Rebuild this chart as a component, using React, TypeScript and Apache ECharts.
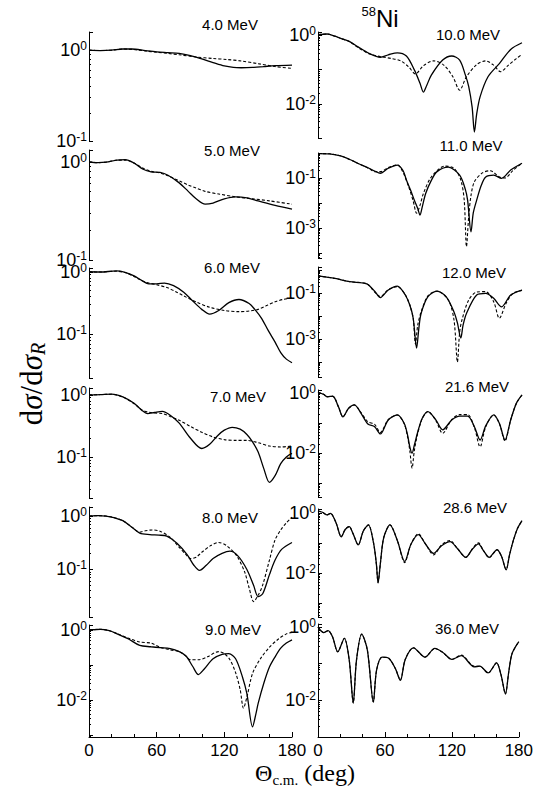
import React, { useEffect, useRef } from "react";
import * as echarts from "echarts";

type P = [number, number][];

// ---- data (theta in deg, dsigma/dsigma_R) ----
const solid4: P = [[0,1.0],[10,0.99],[20,1.0],[30,1.03],[38,1.03],[50,0.99],[60,0.96],[70,0.94],[80,0.92],[90,0.87],[100,0.8],[110,0.73],[120,0.67],[128,0.645],[135,0.64],[145,0.645],[155,0.66],[165,0.675],[180,0.685]];
const dashed4: P = [[0,1.0],[10,0.99],[20,1.0],[30,1.03],[38,1.02],[50,0.98],[60,0.95],[70,0.92],[80,0.89],[95,0.84],[110,0.81],[122,0.79],[135,0.76],[150,0.71],[165,0.66],[180,0.63]];

const solid5: P = [[0,1.0],[8,0.98],[15,0.99],[25,1.04],[32,1.05],[40,0.97],[48,0.84],[55,0.79],[63,0.78],[70,0.73],[80,0.61],[88,0.5],[95,0.42],[103,0.37],[110,0.38],[120,0.42],[130,0.44],[140,0.43],[150,0.4],[165,0.36],[180,0.33]];
const dashed5: P = [[0,1.0],[8,0.98],[15,0.99],[25,1.04],[32,1.04],[40,0.97],[48,0.86],[55,0.8],[63,0.77],[70,0.72],[80,0.64],[88,0.58],[95,0.54],[103,0.5],[115,0.47],[130,0.44],[145,0.42],[160,0.4],[180,0.37]];

const solid6: P = [[0,1.0],[10,0.99],[24,1.03],[32,0.98],[40,0.86],[47,0.72],[53,0.64],[60,0.64],[67,0.66],[75,0.6],[84,0.47],[92,0.34],[100,0.25],[107,0.21],[115,0.24],[124,0.32],[133,0.36],[142,0.31],[147,0.25],[153,0.18],[159,0.114],[165,0.075],[170,0.051],[175,0.04],[180,0.035]];
const dashed6: P = [[0,1.0],[10,0.99],[24,1.02],[32,0.97],[40,0.84],[47,0.72],[53,0.66],[60,0.62],[69,0.56],[77,0.48],[84,0.41],[95,0.33],[107,0.27],[120,0.24],[133,0.23],[142,0.235],[150,0.25],[158,0.29],[165,0.33],[172,0.36],[180,0.38]];

const solid7: P = [[0,1.0],[10,1.01],[20,1.03],[30,0.93],[40,0.73],[47,0.56],[52,0.5],[58,0.52],[65,0.54],[72,0.47],[80,0.35],[90,0.2],[100,0.137],[107,0.16],[114,0.22],[120,0.27],[127,0.3],[134,0.28],[140,0.23],[145,0.175],[150,0.12],[155,0.065],[160,0.039],[165,0.05],[170,0.078],[175,0.1],[180,0.114]];
const dashed7: P = [[0,1.0],[10,1.01],[20,1.02],[30,0.92],[40,0.72],[47,0.57],[52,0.53],[58,0.51],[65,0.5],[72,0.45],[80,0.39],[90,0.31],[100,0.25],[110,0.21],[120,0.19],[130,0.185],[140,0.185],[150,0.17],[160,0.15],[170,0.145],[180,0.15]];

const solid8: P = [[0,1.0],[8,1.02],[15,1.0],[22,0.94],[30,0.82],[38,0.62],[45,0.48],[54,0.45],[62,0.44],[69,0.42],[78,0.31],[87,0.19],[93,0.12],[98,0.096],[104,0.12],[110,0.16],[118,0.2],[125,0.22],[132,0.18],[140,0.1],[146,0.05],[150,0.031],[154,0.035],[160,0.08],[165,0.15],[171,0.24],[180,0.32]];
const dashed8: P = [[0,1.0],[8,1.02],[15,1.0],[22,0.94],[30,0.82],[38,0.62],[45,0.5],[50,0.53],[56,0.55],[63,0.52],[72,0.4],[80,0.26],[86,0.19],[90,0.16],[95,0.17],[100,0.21],[108,0.28],[115,0.32],[122,0.28],[131,0.18],[138,0.09],[142,0.045],[146,0.025],[150,0.033],[154,0.051],[160,0.15],[165,0.36],[170,0.55],[175,0.75],[180,0.95]];

const solid9: P = [[0,1.0],[5,1.02],[10,1.04],[18,0.95],[25,0.77],[35,0.55],[45,0.36],[55,0.33],[63,0.31],[72,0.29],[80,0.24],[86,0.18],[92,0.09],[97,0.053],[102,0.075],[110,0.15],[118,0.2],[124,0.21],[130,0.15],[136,0.046],[140,0.015],[145,0.0017],[148,0.004],[150,0.008],[155,0.03],[160,0.087],[165,0.17],[170,0.3],[175,0.42],[180,0.52]];
const dashed9: P = [[0,1.0],[5,1.02],[10,1.04],[18,0.95],[25,0.78],[35,0.58],[45,0.45],[55,0.42],[63,0.32],[72,0.27],[80,0.24],[85,0.19],[90,0.14],[97,0.14],[105,0.17],[115,0.24],[120,0.21],[125,0.14],[130,0.06],[134,0.02],[137,0.0058],[140,0.012],[145,0.057],[152,0.15],[160,0.32],[168,0.55],[175,0.77],[180,0.85]];

const solid10: P = [[0,1.05],[8,1.1],[15,0.95],[20,0.82],[28,0.66],[35,0.47],[45,0.3],[55,0.23],[62,0.27],[70,0.31],[78,0.25],[85,0.098],[90,0.04],[93,0.022],[96,0.035],[100,0.069],[110,0.19],[118,0.25],[125,0.19],[130,0.07],[133,0.032],[136,0.008],[138,0.0015],[140,0.005],[143,0.016],[150,0.062],[160,0.15],[170,0.39],[180,0.61]];
const dashed10: P = [[0,1.05],[8,1.1],[15,0.95],[20,0.82],[28,0.65],[35,0.45],[45,0.29],[55,0.24],[65,0.21],[73,0.18],[80,0.12],[86,0.075],[93,0.13],[102,0.18],[111,0.135],[119,0.062],[125,0.025],[131,0.062],[140,0.14],[148,0.18],[155,0.135],[161,0.087],[168,0.135],[175,0.21],[180,0.28]];

const solid11: P = [[0,0.95],[10,0.93],[20,0.76],[28,0.55],[35,0.39],[45,0.245],[50,0.19],[55,0.155],[62,0.245],[70,0.33],[75,0.2],[78,0.083],[82,0.03],[85,0.013],[88,0.006],[90,0.0033],[92,0.007],[95,0.024],[100,0.08],[105,0.18],[115,0.27],[125,0.13],[130,0.035],[132,0.013],[135,0.0007],[137,0.004],[140,0.013],[144,0.05],[148,0.11],[155,0.13],[162,0.097],[170,0.21],[180,0.39]];
const dashed11: P = [[0,0.95],[10,0.93],[20,0.76],[28,0.55],[35,0.39],[45,0.24],[50,0.18],[55,0.18],[62,0.26],[70,0.33],[75,0.17],[80,0.045],[84,0.012],[87,0.0039],[90,0.008],[93,0.024],[100,0.11],[112,0.3],[120,0.245],[126,0.083],[129,0.013],[131,0.00018],[133,0.003],[135,0.02],[138,0.071],[145,0.16],[152,0.195],[160,0.11],[165,0.1],[172,0.2],[180,0.39]];

const solid12: P = [[0,0.55],[15,0.43],[28,0.31],[43,0.25],[50,0.12],[55,0.063],[62,0.135],[70,0.2],[77,0.082],[81,0.03],[84,0.008],[87,0.0004],[89,0.003],[91,0.013],[97,0.069],[105,0.12],[113,0.069],[120,0.015],[123,0.005],[126,0.0011],[128,0.004],[131,0.013],[140,0.082],[148,0.097],[155,0.059],[162,0.025],[170,0.082],[180,0.135]];
const dashed12: P = [[0,0.55],[15,0.43],[28,0.31],[43,0.25],[50,0.11],[55,0.07],[62,0.14],[70,0.19],[77,0.085],[81,0.03],[84,0.008],[86,0.0006],[88,0.004],[91,0.015],[97,0.075],[105,0.12],[115,0.05],[120,0.0067],[123,0.0001],[125,0.002],[127,0.0067],[133,0.05],[140,0.11],[148,0.115],[155,0.042],[160,0.008],[166,0.036],[172,0.097],[180,0.13]];

const solid21: P = [[0,1.05],[5,0.9],[8,0.75],[13,0.78],[18,0.35],[22,0.16],[27,0.31],[32,0.4],[38,0.21],[44,0.093],[50,0.075],[55,0.043],[62,0.126],[70,0.185],[76,0.098],[79,0.04],[81,0.016],[83,0.0098],[85,0.018],[88,0.05],[92,0.144],[97,0.24],[104,0.126],[110,0.059],[118,0.126],[125,0.17],[132,0.17],[138,0.075],[143,0.027],[148,0.08],[155,0.185],[160,0.098],[165,0.027],[170,0.126],[175,0.45],[180,0.86]];
const dashed21: P = [[0,1.05],[5,0.9],[8,0.75],[13,0.78],[18,0.35],[22,0.16],[27,0.31],[32,0.4],[38,0.22],[44,0.11],[50,0.09],[55,0.048],[62,0.13],[70,0.185],[76,0.095],[79,0.035],[81,0.012],[83,0.0031],[85,0.012],[88,0.045],[92,0.14],[97,0.24],[104,0.12],[110,0.045],[118,0.13],[125,0.19],[132,0.19],[138,0.07],[143,0.016],[148,0.075],[155,0.185],[160,0.095],[165,0.025],[170,0.126],[175,0.45],[180,0.86]];

const solid28: P = [[0,1.15],[4,1.05],[8,0.86],[11,0.97],[16,0.46],[20.5,0.16],[24,0.28],[27.5,0.35],[31,0.2],[35.5,0.086],[40,0.25],[44.5,0.4],[49,0.1],[51.5,0.02],[53,0.0046],[55,0.02],[58,0.15],[63.5,0.4],[70,0.12],[76.5,0.024],[82,0.09],[88.5,0.19],[95,0.09],[102,0.045],[109,0.08],[116.5,0.11],[123,0.065],[130.5,0.033],[136,0.06],[141.5,0.093],[146,0.055],[151,0.033],[158,0.059],[162,0.035],[166,0.0126],[169,0.04],[172.5,0.126],[176,0.3],[180,0.55]];
const dashed28: P = [[0,1.15],[4,1.05],[8,0.86],[11,0.97],[16,0.46],[20.5,0.16],[24,0.28],[27.5,0.35],[31,0.2],[35.5,0.086],[40,0.25],[44.5,0.4],[49,0.1],[51.5,0.02],[53,0.0048],[55,0.02],[58,0.15],[63.5,0.4],[70,0.12],[76.5,0.022],[82,0.09],[88.5,0.2],[95,0.09],[102,0.04],[109,0.085],[116.5,0.12],[123,0.065],[130.5,0.033],[136,0.062],[141.5,0.1],[146,0.055],[151,0.032],[158,0.059],[162,0.035],[166,0.013],[169,0.04],[172.5,0.126],[176,0.3],[180,0.55]];

const solid36: P = [[0,1.0],[5,0.7],[9,0.79],[13,0.54],[17.7,0.21],[23.6,0.49],[28,0.125],[31.6,0.0085],[34.5,0.125],[39.2,0.64],[44.3,0.23],[49.6,0.009],[52.5,0.066],[57.5,0.15],[63.4,0.14],[69.3,0.074],[73.8,0.035],[78.2,0.13],[85.6,0.27],[95.9,0.15],[104.7,0.26],[112,0.2],[120,0.13],[128.4,0.165],[140,0.082],[145,0.085],[152.5,0.056],[160,0.105],[164,0.05],[168,0.015],[171,0.06],[174,0.19],[180,0.4]];
const dashed36: P = [[0,1.0],[5,0.7],[9,0.79],[13,0.54],[17.7,0.21],[23.6,0.49],[28,0.125],[31.6,0.0085],[34.5,0.125],[39.2,0.64],[44.3,0.23],[49.6,0.009],[52.5,0.066],[57.5,0.15],[63.4,0.14],[69.3,0.074],[73.8,0.036],[78.2,0.13],[85.6,0.27],[95.9,0.15],[104.7,0.26],[112,0.2],[120,0.13],[128.4,0.17],[140,0.085],[145,0.085],[152.5,0.055],[160,0.105],[164,0.05],[168,0.015],[171,0.06],[174,0.19],[180,0.4]];

const xTicks = [0, 60, 120, 180];

type Panel = {
  title: string; solid: P; dashed: P; lo: number; hi: number; labels: number[];
  col: number; top: number; bottom: number; tx: number; ty: number; last?: boolean;
};

const panels: Panel[] = [
  { title: "4.0 MeV", solid: solid4, dashed: dashed4, lo: -1, hi: 0.2, labels: [0, -1], col: 0, top: 32, bottom: 141, tx: 230, ty: 24 },
  { title: "5.0 MeV", solid: solid5, dashed: dashed5, lo: -1, hi: 0.12, labels: [0, -1], col: 0, top: 150, bottom: 260, tx: 232, ty: 150 },
  { title: "6.0 MeV", solid: solid6, dashed: dashed6, lo: -1.7, hi: 0.06, labels: [0, -1], col: 0, top: 268, bottom: 378, tx: 232, ty: 267 },
  { title: "7.0 MeV", solid: solid7, dashed: dashed7, lo: -1.66, hi: 0.11, labels: [0, -1], col: 0, top: 388, bottom: 498, tx: 238, ty: 396 },
  { title: "8.0 MeV", solid: solid8, dashed: dashed8, lo: -1.89, hi: 0.17, labels: [0, -1], col: 0, top: 507, bottom: 617, tx: 230, ty: 517 },
  { title: "9.0 MeV", solid: solid9, dashed: dashed9, lo: -3.06, hi: 0.14, labels: [0, -2], col: 0, top: 625, bottom: 737, tx: 233, ty: 629, last: true },
  { title: "10.0 MeV", solid: solid10, dashed: dashed10, lo: -3, hi: 0.1, labels: [0, -2], col: 1, top: 32, bottom: 138, tx: 468, ty: 34 },
  { title: "11.0 MeV", solid: solid11, dashed: dashed11, lo: -4.2, hi: 0, labels: [-1, -3], col: 1, top: 153, bottom: 258, tx: 471, ty: 145 },
  { title: "12.0 MeV", solid: solid12, dashed: dashed12, lo: -4.65, hi: 0.13, labels: [-1, -3], col: 1, top: 267, bottom: 377, tx: 474, ty: 272 },
  { title: "21.6 MeV", solid: solid21, dashed: dashed21, lo: -3.47, hi: 0.1, labels: [0, -2], col: 1, top: 390, bottom: 497, tx: 477, ty: 386 },
  { title: "28.6 MeV", solid: solid28, dashed: dashed28, lo: -3.47, hi: 0.13, labels: [0, -2], col: 1, top: 509, bottom: 617, tx: 475, ty: 507 },
  { title: "36.0 MeV", solid: solid36, dashed: dashed36, lo: -3.0, hi: 0.08, labels: [0, -2], col: 1, top: 624, bottom: 737, tx: 467, ty: 628, last: true },
];

const SANS = "Liberation Sans, Arial, sans-serif";
const SERIF = "Liberation Serif, Times New Roman, serif";

function buildOption() {
  const grid: any[] = [];
  const xAxis: any[] = [];
  const yAxis: any[] = [];
  const series: any[] = [];
  const graphic: any[] = [];
  panels.forEach((p, i) => {
    grid.push({ left: p.col === 0 ? 89 : 318, width: p.col === 0 ? 203 : 204, top: p.top, height: p.bottom - p.top });
    xAxis.push({
      type: "value", gridIndex: i, min: xTicks[0], max: xTicks[xTicks.length - 1], interval: 60,
      show: !!p.last,
      axisLine: { show: true, onZero: false, lineStyle: { color: "#000", width: 1 } },
      axisTick: { show: true, inside: true, length: 5, lineStyle: { color: "#000" } },
      minorTick: { show: true, splitNumber: 3, length: 3, lineStyle: { color: "#000" } },
      splitLine: { show: false },
      axisLabel: { fontSize: 17, color: "#000", fontFamily: SANS, margin: 5 },
    });
    const labs = p.labels;
    yAxis.push({
      type: "log", logBase: 10, gridIndex: i,
      min: Math.pow(10, p.lo), max: Math.pow(10, p.hi),
      axisLine: { show: true, lineStyle: { color: "#000", width: 1 } },
      axisTick: { show: true, inside: true, length: 4, lineStyle: { color: "#000" } },
      minorTick: { show: true, splitNumber: 9, length: 2, lineStyle: { color: "#000" } },
      splitLine: { show: false },
      axisLabel: {
        margin: 2,
        formatter: (v: number) => {
          const e = Math.log10(v);
          const r = Math.round(e);
          if (Math.abs(e - r) > 1e-6 || labs.indexOf(r) < 0) return "";
          return "{b|10}{s|" + r + "}";
        },
        rich: {
          b: { fontSize: 18, fontFamily: SANS, color: "#000", lineHeight: 20 },
          s: { fontSize: 12, fontFamily: SANS, color: "#000", lineHeight: 12, verticalAlign: "top" },
        },
      },
    });
    series.push({
      type: "line", xAxisIndex: i, yAxisIndex: i, data: p.dashed, showSymbol: false, symbol: "none",
      smooth: 0.3, lineStyle: { color: "#000", width: 1.1, type: [3, 2] }, z: 2,
    });
    series.push({
      type: "line", xAxisIndex: i, yAxisIndex: i, data: p.solid, showSymbol: false, symbol: "none",
      smooth: 0.3, lineStyle: { color: "#000", width: 1.3, type: "solid" }, z: 3,
    });
    graphic.push({
      type: "text", x: p.tx, y: p.ty, z: 10,
      style: { text: p.title, fontSize: 15, fontFamily: SANS, fill: "#000", align: "center", verticalAlign: "middle" },
    });
  });
  graphic.push({
    type: "text", x: 380, y: 18, z: 10,
    style: {
      text: "{s|58}{n|Ni}", align: "center", verticalAlign: "middle",
      rich: {
        s: { fontSize: 13, fontFamily: SANS, fill: "#000", lineHeight: 13, verticalAlign: "top" },
        n: { fontSize: 24, fontFamily: SANS, fill: "#000", lineHeight: 26 },
      },
    },
  });
  graphic.push({
    type: "text", x: 31, y: 384, rotation: Math.PI / 2, z: 10,
    style: {
      text: "{u|d}{i|σ}{u|/d}{i|σ}{r|R}", align: "center", verticalAlign: "middle",
      rich: {
        u: { fontSize: 31, fontFamily: SERIF, fill: "#000", lineHeight: 34 },
        i: { fontSize: 31, fontFamily: SERIF, fontStyle: "italic", fill: "#000", lineHeight: 34 },
        r: { fontSize: 20, fontFamily: SERIF, fontStyle: "italic", fill: "#000", lineHeight: 20, verticalAlign: "bottom" },
      },
    },
  });
  graphic.push({
    type: "text", x: 305, y: 773, z: 10,
    style: {
      text: "{t|Θ}{s|c.m.}{t| (deg)}", align: "center", verticalAlign: "middle",
      rich: {
        t: { fontSize: 24, fontFamily: SERIF, fill: "#000", lineHeight: 28 },
        s: { fontSize: 15, fontFamily: SERIF, fill: "#000", lineHeight: 15, verticalAlign: "bottom" },
      },
    },
  });
  return { animation: false, backgroundColor: "#fff", grid, xAxis, yAxis, series, graphic };
}

export default function App() {
  const ref = useRef<HTMLDivElement>(null);
  useEffect(() => {
    if (!ref.current) return;
    const chart = echarts.init(ref.current, undefined, { renderer: "svg" });
    chart.setOption(buildOption() as any);
    return () => chart.dispose();
  }, []);
  return <div ref={ref} style={{ position: "fixed", left: 0, top: 0, width: 536, height: 788, background: "#fff" }} />;
}
